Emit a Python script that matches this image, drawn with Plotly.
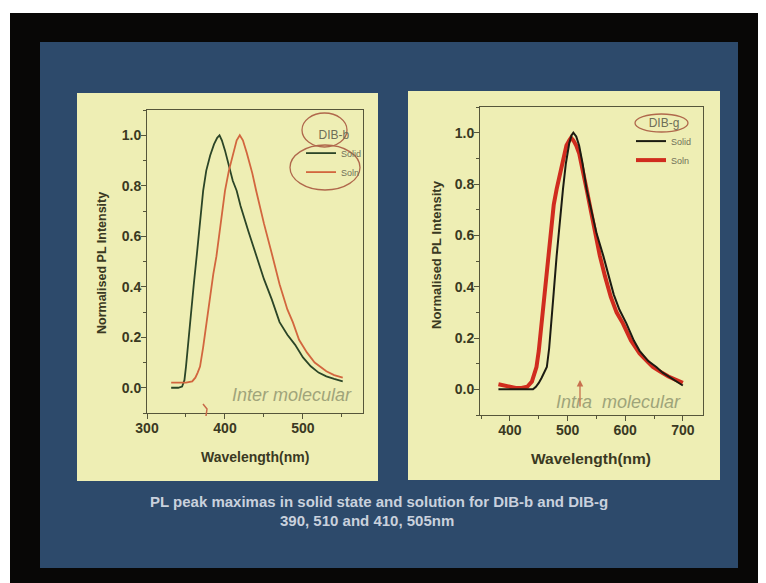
import plotly.graph_objects as go

W, H = 766, 583

# ---------------- data ----------------
# Left panel: DIB-b (inter molecular)
dibb_solid_x = [331, 335, 340, 345, 348, 350, 355, 360, 364, 368, 372, 376, 381, 386, 390, 393,
                396, 400, 405, 410, 415, 420, 430, 440, 450, 460, 470, 480, 490, 500, 510, 520,
                530, 540, 551]
dibb_solid_y = [0.0, 0.0, 0.0, 0.005, 0.03, 0.084, 0.26, 0.41, 0.53, 0.65, 0.78, 0.86, 0.92, 0.965,
                0.99, 1.0, 0.98, 0.94, 0.88, 0.82, 0.78, 0.72, 0.62, 0.52, 0.43, 0.35, 0.26, 0.21,
                0.17, 0.12, 0.085, 0.06, 0.045, 0.035, 0.025]

dibb_soln_x = [331, 340, 350, 358, 362, 365, 368, 372, 376, 380, 385, 389, 395, 400, 405, 410,
               415, 419, 423, 428, 435, 440, 450, 461, 470, 480, 487, 495, 505, 515, 522, 530,
               540, 551]
dibb_soln_y = [0.02, 0.02, 0.02, 0.025, 0.04, 0.06, 0.084, 0.16, 0.25, 0.34, 0.45, 0.52, 0.67,
               0.78, 0.86, 0.92, 0.98, 1.0, 0.98, 0.93, 0.85, 0.78, 0.65, 0.52, 0.41, 0.31, 0.26,
               0.19, 0.14, 0.10, 0.084, 0.065, 0.05, 0.04]

# Right panel: DIB-g (intra molecular)
dibg_solid_x = [380, 400, 420, 440, 445, 450, 455, 460, 464, 468, 472, 476, 481, 486, 492, 497,
                503, 507, 510, 515, 520, 526, 533, 540, 550, 562, 570, 580, 590, 602, 615, 625,
                640, 654, 665, 680, 690, 700]
dibg_solid_y = [0.0, 0.0, 0.0, 0.0, 0.01, 0.025, 0.045, 0.07, 0.087, 0.16, 0.257, 0.38, 0.52, 0.65,
                0.78, 0.88, 0.96, 0.99, 1.0, 0.985, 0.95, 0.88, 0.78, 0.71, 0.61, 0.52, 0.45, 0.37,
                0.31, 0.257, 0.19, 0.15, 0.11, 0.087, 0.065, 0.045, 0.03, 0.015]

dibg_soln_x = [380, 390, 400, 410, 420, 430, 438, 443, 446, 450, 455, 460, 466, 471, 476, 481, 487,
               493, 498, 503, 506, 510, 515, 520, 527, 533, 540, 547, 556, 565, 575, 585, 596, 610,
               625, 640, 648, 660, 675, 690, 700]
dibg_soln_y = [0.02, 0.015, 0.01, 0.005, 0.005, 0.01, 0.03, 0.06, 0.087, 0.15, 0.257, 0.38, 0.52,
               0.63, 0.72, 0.78, 0.84, 0.90, 0.95, 0.97, 0.98, 0.97, 0.95, 0.92, 0.85, 0.78, 0.70,
               0.62, 0.52, 0.44, 0.36, 0.30, 0.257, 0.19, 0.14, 0.105, 0.087, 0.07, 0.05, 0.035,
               0.025]

series_names = ["Solid", "Soln"]
panel_labels = ["DIB-b", "DIB-g"]
panel_notes = ["Inter molecular", "Intra\u00a0 molecular"]
x_title = "Wavelength(nm)"
y_title = "Normalised PL Intensity"
caption_lines = ["PL peak maximas in solid state and solution for DIB-b and DIB-g",
                 "390, 510 and 410, 505nm"]

# ---------------- helpers (page pixel -> paper fraction) ----------------
OX, OY = 8, 8  # page body margin offset


def px(x):
    return (x - OX) / W


def py(y):
    return 1 - (y - OY) / H


FONT = "Liberation Sans, Arial, sans-serif"
INK = "#3a3922"
AXC = "#55553a"

fig = go.Figure()

fig.add_trace(go.Scatter(x=dibb_solid_x, y=dibb_solid_y, mode="lines", name=series_names[0],
                         line=dict(color="#2b4527", width=1.8), xaxis="x", yaxis="y",
                         legend="legend"))
fig.add_trace(go.Scatter(x=dibb_soln_x, y=dibb_soln_y, mode="lines", name=series_names[1],
                         line=dict(color="#d2663e", width=1.8), xaxis="x", yaxis="y",
                         legend="legend"))
fig.add_trace(go.Scatter(x=dibg_soln_x, y=dibg_soln_y, mode="lines", name=series_names[1],
                         line=dict(color="#d02c1e", width=4), xaxis="x2", yaxis="y2",
                         legend="legend2", legendrank=2))
fig.add_trace(go.Scatter(x=dibg_solid_x, y=dibg_solid_y, mode="lines", name=series_names[0],
                         line=dict(color="#1b1b12", width=2), xaxis="x2", yaxis="y2",
                         legend="legend2", legendrank=1))

axis_common = dict(showline=True, linecolor=AXC, linewidth=1, mirror=True,
                   ticks="outside", ticklen=5, tickcolor=AXC, showgrid=False,
                   zeroline=False,
                   tickfont=dict(family=FONT, size=14, color=INK, weight="bold"))
minor_common = dict(ticklen=3, ticks="outside", tickcolor=AXC)

fig.update_layout(
    width=W, height=H,
    margin=dict(l=0, r=0, t=0, b=0, autoexpand=False),
    paper_bgcolor="#080706",
    plot_bgcolor="rgba(0,0,0,0)",
    xaxis=dict(domain=[px(147), px(363)], range=[300, 577], dtick=100, anchor="y",
               ticklabelstandoff=-3, minor=dict(dtick=50, **minor_common), **axis_common),
    yaxis=dict(domain=[py(413), py(110)], range=[-0.1, 1.1], dtick=0.2, tickformat=".1f",
               anchor="x", ticklabelstandoff=-3, minor=dict(dtick=0.1, **minor_common),
               **axis_common),
    xaxis2=dict(domain=[px(480), px(703)], range=[348, 735], dtick=100, anchor="y2",
                ticklabelstandoff=-3, minor=dict(dtick=50, **minor_common), **axis_common),
    yaxis2=dict(domain=[py(415), py(107)], range=[-0.1, 1.1], dtick=0.2, tickformat=".1f",
                anchor="x2", ticklabelstandoff=-3, minor=dict(dtick=0.1, **minor_common),
                **axis_common),
    legend=dict(x=px(301), y=py(123), xanchor="left", yanchor="top",
                bgcolor="rgba(0,0,0,0)", borderwidth=0,
                font=dict(family=FONT, size=9, color="#707058"),
                title=dict(text=panel_labels[0], side="top center",
                           font=dict(family=FONT, size=12, color="#6e6e58"))),
    legend2=dict(x=px(631), y=py(111), xanchor="left", yanchor="top",
                 bgcolor="rgba(0,0,0,0)", borderwidth=0,
                 font=dict(family=FONT, size=9, color="#707058"),
                 title=dict(text=panel_labels[1], side="top center",
                            font=dict(family=FONT, size=12, color="#6e6e58"))),
    showlegend=True,
)

shapes = []
# white strips of the photo (top and left)
shapes.append(dict(type="rect", xref="paper", yref="paper", x0=0, x1=1, y0=py(13), y1=1.05,
                   fillcolor="#ffffff", line_width=0, layer="below"))
shapes.append(dict(type="rect", xref="paper", yref="paper", x0=-0.05, x1=px(10), y0=-0.05, y1=1.05,
                   fillcolor="#ffffff", line_width=0, layer="below"))
# blue slide
shapes.append(dict(type="rect", xref="paper", yref="paper", x0=px(40), x1=px(738),
                   y0=py(568), y1=py(42), fillcolor="#2d4a6b", line_width=0, layer="below"))
# yellow panels
shapes.append(dict(type="rect", xref="paper", yref="paper", x0=px(77), x1=px(378),
                   y0=py(481), y1=py(93), fillcolor="#eeeeb4", line_width=0, layer="below"))
shapes.append(dict(type="rect", xref="paper", yref="paper", x0=px(408), x1=px(720),
                   y0=py(480), y1=py(91), fillcolor="#eeeeb4", line_width=0, layer="below"))
# hand-drawn circles
pen = "#b0684c"
shapes.append(dict(type="circle", xref="paper", yref="paper", x0=px(302), x1=px(347),
                   y0=py(147), y1=py(113), line=dict(color=pen, width=1.3)))
shapes.append(dict(type="circle", xref="paper", yref="paper", x0=px(290), x1=px(360),
                   y0=py(190), y1=py(145), line=dict(color=pen, width=1.3)))
shapes.append(dict(type="circle", xref="paper", yref="paper", x0=px(635), x1=px(688),
                   y0=py(132), y1=py(114), line=dict(color=pen, width=1.3)))
# small red tick mark near x axis of left panel
shapes.append(dict(type="path", xref="paper", yref="paper",
                   path=f"M {px(203)} {py(404)} L {px(207)} {py(409)} L {px(206)} {py(416)}",
                   line=dict(color="#c86a4a", width=1.5)))
fig.update_layout(shapes=shapes)


def label(x, y, text, size, color, angle=0, **fontkw):
    return dict(x=px(x), y=py(y), xref="paper", yref="paper", text=text, textangle=angle,
                xanchor="center", yanchor="middle", showarrow=False,
                font=dict(family=FONT, size=size, color=color, **fontkw))


ann = [
    # axis titles
    label(102, 263, y_title, 12.5, INK, angle=-90, weight="bold"),
    label(255, 457, x_title, 14, INK, weight="bold"),
    label(437, 255, y_title, 13, INK, angle=-90, weight="bold"),
    label(591, 458, x_title, 15.5, INK, weight="bold"),
    # panel notes
    label(292, 395, panel_notes[0], 18, "#a0a47a", style="italic"),
    label(618, 402, panel_notes[1], 18, "#9ea47a", style="italic"),
    # caption
    label(379, 501, caption_lines[0], 15, "#c9d1dd", weight="bold"),
    label(367, 520, caption_lines[1], 15, "#c9d1dd", weight="bold"),
]
# hand-drawn arrow on right panel
ann.append(dict(x=px(580), y=py(380), xref="paper", yref="paper", ax=0, ay=28, text="",
                showarrow=True, arrowhead=2, arrowsize=1, arrowwidth=1.3, arrowcolor="#c8704e"))
fig.update_layout(annotations=ann)

fig.write_html("out.html")
